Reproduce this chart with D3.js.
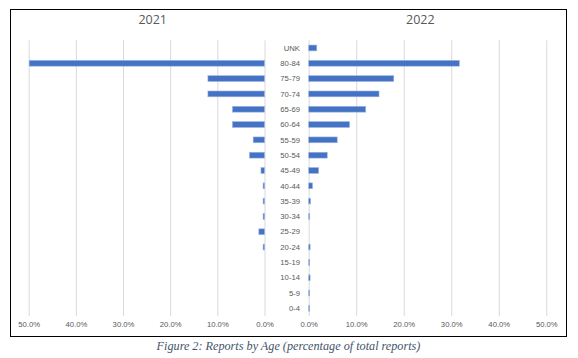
<!DOCTYPE html>
<html><head><meta charset="utf-8">
<script src="https://cdn.jsdelivr.net/npm/d3@7"></script>
<style>body{margin:0;background:#fff}svg{display:block}</style>
</head><body>
<svg id="c" width="578" height="358"></svg>
<script>
const categories = ["UNK","80-84","75-79","70-74","65-69","60-64","55-59","50-54","45-49","40-44","35-39","30-34","25-29","20-24","15-19","10-14","5-9","0-4"];
const values2021 = [0, 0.499, 0.12, 0.12, 0.068, 0.068, 0.024, 0.032, 0.0075, 0.003, 0.003, 0.003, 0.012, 0.003, 0, 0, 0, 0];
const values2022 = [0.017, 0.317, 0.179, 0.148, 0.12, 0.086, 0.06, 0.039, 0.021, 0.008, 0.004, 0.002, 0, 0.003, 0.002, 0.003, 0.002, 0.002];
const tickValues = [0, 0.1, 0.2, 0.3, 0.4, 0.5];
const panelTitles = ["2021", "2022"];
const caption = "Figure 2: Reports by Age (percentage of total reports)";

const svg = d3.select("#c");
const plotTop = 40.3, plotBottom = 316;
const y = d3.scaleBand().domain(categories).range([plotTop, plotBottom]).paddingInner(0.62).paddingOuter(0.31);
const xL = d3.scaleLinear().domain([0, 0.5]).range([264.5, 28.7]);
const xR = d3.scaleLinear().domain([0, 0.5]).range([308.7, 546.3]);
const fmt = d3.format(".1%");
const barColor = "#4472C4", barStroke = "#9DB5E2";
const smallFont = "'Liberation Sans', Arial, sans-serif";

// frame
svg.append("rect").attr("x", 10.5).attr("y", 9.5).attr("width", 556).attr("height", 327)
  .attr("fill", "none").attr("stroke", "#000").attr("stroke-width", 1);

function panel(x, vals) {
  const ax = svg.append("g").attr("transform", `translate(0,${plotBottom})`)
    .call(d3.axisBottom(x).tickValues(tickValues).tickFormat(fmt).tickSize(-(plotBottom - plotTop)).tickPadding(6));
  ax.select(".domain").remove();
  ax.selectAll(".tick line").attr("stroke", "#d9d9d9").attr("stroke-width", 1);
  ax.selectAll(".tick text").attr("fill", "#595959").style("font-family", smallFont).style("font-size", "7.7px");
  svg.append("g").selectAll("rect").data(vals).join("rect")
    .attr("x", d => Math.min(x(0), x(d)))
    .attr("width", d => Math.abs(x(d) - x(0)))
    .attr("y", (d, i) => y(categories[i]))
    .attr("height", y.bandwidth())
    .attr("fill", barColor)
    .attr("stroke", barStroke).attr("stroke-width", 0.6);
}
panel(xL, values2021);
panel(xR, values2022);

// category labels
svg.append("g").selectAll("text").data(categories).join("text")
  .attr("x", 300).attr("y", d => y(d) + y.bandwidth() / 2)
  .attr("dy", "0.35em").attr("text-anchor", "end")
  .attr("fill", "#595959")
  .style("font-family", smallFont).style("font-size", "7.7px")
  .text(d => d);

// titles
svg.selectAll(".ptitle").data(panelTitles).join("text").attr("class", "ptitle")
  .attr("x", (d, i) => i === 0 ? 152.7 : 420.3).attr("y", 24)
  .attr("text-anchor", "middle").attr("fill", "#595959")
  .style("font-family", "'Open Sans', 'Liberation Sans', sans-serif").style("font-size", "12.5px")
  .text(d => d);

// caption
svg.append("text").attr("x", 288.5).attr("y", 350).attr("text-anchor", "middle")
  .attr("fill", "#44546A")
  .style("font-family", "'Liberation Serif', 'Times New Roman', serif").style("font-style", "italic").style("font-size", "12.2px")
  .text(caption);
</script>
</body></html>
